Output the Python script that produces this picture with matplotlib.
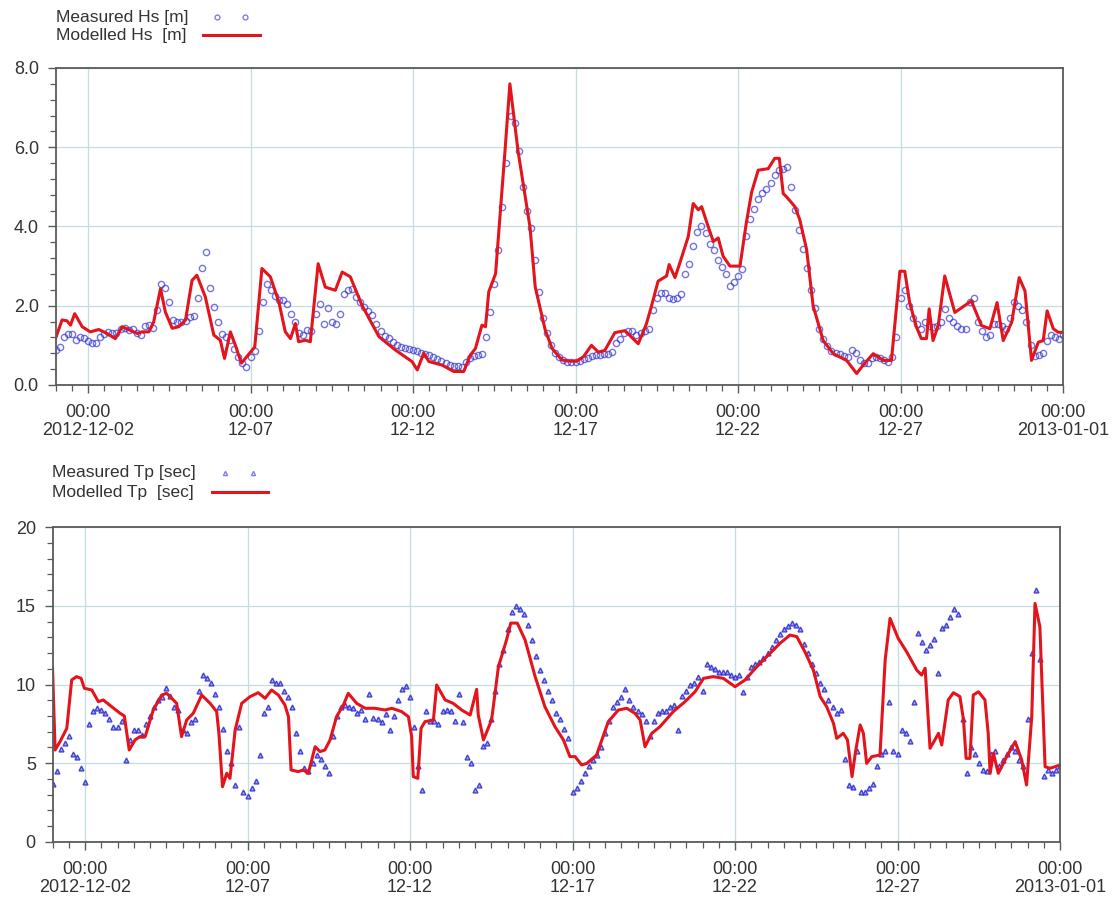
import matplotlib
matplotlib.use('Agg')
import matplotlib.pyplot as plt
import matplotlib.dates as mdates
from matplotlib.lines import Line2D
from matplotlib.ticker import FixedLocator, FixedFormatter, MultipleLocator, FormatStrFormatter
import numpy as np
import pandas as pd

plt.rcParams['font.family'] = ['Liberation Sans', 'DejaVu Sans']

START = pd.Timestamp('2012-12-01')
END = pd.Timestamp('2013-01-01')

# Modelled significant wave height: time (days since 2012-12-01) and value [m]
hs_mod_day = [0.0, 0.2, 0.35, 0.46, 0.59, 0.82, 1.07, 1.33, 1.58, 1.84,
              2.05, 2.30, 2.51, 2.66, 2.87, 3.02, 3.23, 3.38, 3.59, 3.79,
              4.0, 4.2, 4.35, 4.61, 4.87, 5.07, 5.2, 5.38, 5.53, 5.72,
              5.92, 6.13, 6.35, 6.61, 6.87, 7.07, 7.23, 7.38, 7.48, 7.69,
              7.84, 8.08, 8.3, 8.61, 8.82, 9.07, 9.43, 9.95, 10.46, 10.97,
              11.13, 11.33, 11.49, 11.9, 12.25, 12.56, 12.76, 12.92, 13.12, 13.23,
              13.33, 13.54, 13.65, 13.83, 13.98, 14.23, 14.6, 14.76, 15.07, 15.28,
              15.58, 15.83, 16.03, 16.24, 16.49, 16.70, 16.90, 17.21, 17.52, 17.93,
              18.18, 18.34, 18.54, 18.80, 18.88, 19.06, 19.21, 19.47, 19.62, 19.78,
              19.88, 20.08, 20.24, 20.39, 20.54, 20.75, 21.06, 21.26, 21.42, 21.62,
              21.93, 22.13, 22.27, 22.39, 22.49, 22.75, 22.90, 23.11, 23.31, 23.62,
              23.93, 24.34, 24.65, 24.85, 25.16, 25.47, 25.72, 25.98, 26.13, 26.28,
              26.49, 26.64, 26.80, 26.88, 27.0, 27.16, 27.36, 27.67, 28.18, 28.49,
              28.75, 28.97, 29.16, 29.42, 29.65, 29.83, 30.03, 30.24, 30.39, 30.51,
              30.70, 30.85, 31.0]
hs_mod_val = [1.17, 1.64, 1.62, 1.51, 1.80, 1.47, 1.34, 1.40, 1.30, 1.17,
              1.47, 1.38, 1.30, 1.34, 1.34, 1.59, 2.43, 1.84, 1.43, 1.47,
              1.64, 2.64, 2.77, 2.22, 1.26, 1.13, 0.67, 1.34, 1.01, 0.55,
              0.75, 0.96, 2.94, 2.73, 2.10, 1.34, 1.17, 1.55, 1.09, 1.13,
              1.09, 3.06, 2.47, 2.39, 2.85, 2.73, 2.01, 1.22, 0.88, 0.59,
              0.38, 0.80, 0.59, 0.50, 0.34, 0.34, 0.75, 0.92, 1.51, 1.47,
              2.35, 2.81, 3.98, 5.91, 7.60, 5.91, 3.98, 2.47, 1.38, 0.92,
              0.63, 0.60, 0.60, 0.71, 1.00, 0.83, 0.87, 1.32, 1.37, 1.04,
              1.54, 2.00, 2.62, 2.75, 3.04, 2.71, 3.08, 3.75, 4.58, 4.42,
              4.50, 4.00, 3.62, 3.71, 3.25, 3.00, 3.00, 4.12, 4.87, 5.42,
              5.46, 5.72, 5.72, 4.83, 4.75, 4.50, 4.17, 3.42, 2.00, 1.12,
              0.79, 0.62, 0.29, 0.50, 0.79, 0.62, 0.62, 2.87, 2.87, 2.08,
              1.46, 1.17, 1.17, 1.92, 1.12, 1.50, 2.75, 1.83, 2.12, 1.50,
              1.42, 2.08, 1.12, 1.58, 2.71, 2.37, 0.62, 1.08, 1.12, 1.87,
              1.42, 1.33, 1.33]

# Measured Hs [m], 3-hourly from 2012-12-01 00:00 (one row per day)
hs_meas = [0.88, 0.95, 1.22, 1.28, 1.28, 1.13, 1.20, 1.18,
           1.10, 1.05, 1.07, 1.20, 1.28, 1.34, 1.30, 1.30,
           1.40, 1.43, 1.38, 1.42, 1.30, 1.25, 1.50, 1.52,
           1.45, 1.89, 2.55, 2.45, 2.10, 1.65, 1.58, 1.60,
           1.62, 1.72, 1.75, 2.20, 2.95, 3.35, 2.45, 1.97,
           1.60, 1.28, 1.20, 1.13, 0.92, 0.70, 0.55, 0.45,
           0.70, 0.85, 1.35, 2.10, 2.55, 2.40, 2.25, 2.14,
           2.14, 2.05, 1.80, 1.60, 1.30, 1.25, 1.38, 1.35,
           1.80, 2.05, 1.55, 1.95, 1.60, 1.55, 1.80, 2.30,
           2.40, 2.42, 2.22, 2.10, 1.97, 1.87, 1.76, 1.55,
           1.35, 1.24, 1.18, 1.09, 1.02, 0.97, 0.93, 0.90,
           0.88, 0.85, 0.81, 0.78, 0.75, 0.70, 0.65, 0.60,
           0.55, 0.50, 0.48, 0.47, 0.46, 0.58, 0.67, 0.72,
           0.75, 0.78, 1.20, 1.85, 2.55, 3.40, 4.50, 5.60,
           6.80, 6.60, 5.90, 5.00, 4.40, 3.95, 3.15, 2.35,
           1.70, 1.30, 1.00, 0.80, 0.70, 0.62, 0.58, 0.58,
           0.58, 0.60, 0.65, 0.67, 0.72, 0.75, 0.75, 0.77,
           0.78, 0.83, 1.05, 1.15, 1.30, 1.37, 1.35, 1.25,
           1.30, 1.35, 1.42, 1.90, 2.20, 2.33, 2.33, 2.20,
           2.17, 2.20, 2.30, 2.80, 3.05, 3.50, 3.85, 4.00,
           3.83, 3.55, 3.40, 3.15, 2.98, 2.80, 2.50, 2.60,
           2.75, 2.92, 3.75, 4.20, 4.45, 4.70, 4.85, 4.95,
           5.10, 5.30, 5.42, 5.45, 5.50, 5.00, 4.42, 3.90,
           3.42, 2.95, 2.40, 1.95, 1.40, 1.15, 0.98, 0.85,
           0.80, 0.77, 0.74, 0.71, 0.88, 0.80, 0.62, 0.56,
           0.55, 0.68, 0.71, 0.67, 0.62, 0.58, 0.70, 1.20,
           2.20, 2.40, 2.00, 1.70, 1.55, 1.42, 1.58, 1.50,
           1.46, 1.50, 1.60, 1.92, 1.70, 1.60, 1.48, 1.42,
           1.42, 2.10, 2.20, 1.60, 1.35, 1.20, 1.25, 1.55,
           1.55, 1.50, 1.42, 1.70, 2.10, 2.00, 1.90, 1.58,
           1.00, 0.72, 0.75, 0.80, 1.10, 1.25, 1.20, 1.17,
           1.25]

# Modelled peak period: time (days since 2012-12-01) and value [sec]
tp_mod_day = [0.0, 0.08, 0.23, 0.44, 0.59, 0.74, 0.88, 0.98, 1.21, 1.41,
              1.56, 1.82, 2.08, 2.21, 2.28, 2.36, 2.54, 2.69, 2.85, 3.1,
              3.36, 3.51, 3.67, 3.82, 3.97, 4.13, 4.33, 4.59, 4.85, 5.05,
              5.12, 5.23, 5.36, 5.46, 5.62, 5.82, 6.08, 6.33, 6.54, 6.74,
              6.95, 7.15, 7.26, 7.34, 7.56, 7.72, 7.87, 8.08, 8.23, 8.38,
              8.54, 8.74, 8.95, 9.1, 9.36, 9.62, 9.92, 10.23, 10.44, 10.74,
              10.95, 11.05, 11.1, 11.24, 11.34, 11.46, 11.72, 11.82, 12.08, 12.33,
              12.59, 12.85, 13.05, 13.1, 13.26, 13.51, 13.72, 13.97, 14.1, 14.3,
              14.54, 14.85, 15.15, 15.46, 15.72, 15.92, 16.08, 16.28, 16.44, 16.74,
              17.1, 17.41, 17.67, 17.92, 18.08, 18.23, 18.44, 18.69, 19.1, 19.46,
              19.77, 20.03, 20.33, 20.64, 21.0, 21.31, 21.67, 22.08, 22.38, 22.69,
              22.9, 23.15, 23.41, 23.62, 23.82, 24.03, 24.13, 24.33, 24.46, 24.6,
              24.7, 24.85, 24.95, 25.05, 25.21, 25.46, 25.62, 25.77, 26.02, 26.28,
              26.59, 26.74, 26.85, 27.0, 27.15, 27.26, 27.36, 27.56, 27.72, 27.92,
              28.03, 28.11, 28.23, 28.33, 28.49, 28.69, 28.79, 28.85, 28.95, 29.1,
              29.36, 29.62, 29.82, 29.97, 30.13, 30.23, 30.38, 30.54, 30.69, 30.85,
              31.0]
tp_mod_val = [11.03, 5.84, 6.37, 7.22, 10.29, 10.5, 10.39, 9.76, 9.65, 8.91,
              9.02, 8.59, 8.17, 8.0, 7.0, 5.84, 6.48, 6.69, 6.69, 8.38,
              9.33, 9.44, 9.12, 8.8, 6.69, 7.75, 8.17, 9.33, 8.8, 8.28,
              6.9, 3.51, 4.36, 4.04, 7.11, 8.8, 9.23, 9.48, 9.12, 9.65,
              9.33, 8.7, 7.96, 4.57, 4.47, 4.57, 4.36, 6.05, 5.74, 5.84,
              6.48, 7.96, 8.7, 9.44, 8.8, 8.49, 8.49, 8.38, 8.49, 8.28,
              7.96, 6.69, 4.15, 4.04, 7.22, 7.64, 7.75, 9.97, 9.02, 8.8,
              8.38, 8.06, 9.69, 8.06, 6.48, 7.75, 11.13, 12.83, 13.9, 13.9,
              12.83, 10.5, 8.59, 7.32, 6.48, 5.42, 5.42, 4.89, 4.99, 5.52,
              7.64, 8.38, 8.49, 8.17, 7.75, 6.05, 6.9, 7.32, 8.28, 8.91,
              9.54, 10.39, 10.5, 10.39, 9.86, 10.29, 11.13, 11.98, 12.61, 13.14,
              13.04, 12.08, 10.92, 9.23, 8.59, 7.53, 6.58, 6.9, 6.48, 4.15,
              5.63, 7.43, 6.9, 4.99, 5.42, 5.52, 11.56, 14.2, 12.93, 12.08,
              10.92, 10.6, 11.03, 5.95, 6.48, 6.9, 6.16, 9.02, 9.48, 9.23,
              7.75, 5.31, 5.31, 9.33, 9.54, 9.02, 6.9, 4.36, 5.63, 4.36,
              5.42, 6.37, 5.21, 3.62, 7.96, 15.15, 13.67, 4.78, 4.68, 4.78,
              4.89]

# Measured Tp [sec], 3-hourly from 2012-12-01 00:00 (one row per day)
tp_meas = [3.7, 4.5, 5.9, 6.3, 6.7, 5.6, 5.4, 4.7,
           3.8, 7.5, 8.3, 8.5, 8.4, 8.2, 7.8, 7.3,
           7.3, 7.7, 5.2, 6.5, 7.1, 7.1, 6.8, 7.5,
           8.0, 8.6, 9.0, 9.2, 9.8, 9.3, 8.6, 8.4,
           7.1, 6.9, 7.6, 7.8, 9.6, 10.6, 10.4, 10.1,
           9.4, 8.6, 7.2, 5.8, 5.0, 3.6, 7.3, 3.2,
           2.9, 3.4, 3.9, 5.5, 8.2, 8.6, 10.3, 10.1,
           10.1, 9.6, 9.2, 8.6, 6.9, 5.8, 4.7, 4.5,
           5.0, 5.5, 5.3, 4.8, 4.4, 6.7, 8.0, 8.6,
           8.7, 8.6, 8.5, 8.2, 8.4, 7.8, 9.4, 7.9,
           7.8, 7.6, 8.1, 7.1, 8.0, 9.0, 9.7, 9.9,
           9.2, 7.3, 4.8, 3.3, 8.3, 7.7, 7.7, 7.5,
           8.3, 8.4, 8.3, 7.7, 9.4, 7.6, 5.4, 5.0,
           3.3, 3.6, 6.1, 6.3, 7.8, 9.6, 11.3, 12.2,
           13.5, 14.6, 15.0, 14.8, 14.5, 13.8, 12.8, 11.8,
           10.9, 10.3, 9.6, 9.0, 8.2, 7.8, 7.2, 6.6,
           3.2, 3.4, 3.9, 4.4, 4.8, 5.2, 5.5, 6.0,
           6.9, 7.7, 8.6, 8.9, 9.2, 9.7, 9.0, 8.6,
           8.3, 8.1, 7.7, 6.7, 7.7, 8.2, 8.3, 8.3,
           8.6, 8.7, 7.1, 9.3, 9.6, 10.0, 10.1, 10.5,
           9.6, 11.3, 11.1, 11.0, 10.8, 10.8, 10.8, 10.6,
           10.5, 10.6, 9.5, 10.5, 11.1, 11.3, 11.4, 11.7,
           12.0, 12.4, 12.8, 13.2, 13.5, 13.7, 13.9, 13.8,
           13.5, 12.6, 12.0, 11.3, 10.7, 10.1, 9.7, 9.0,
           8.6, 8.2, 8.4, 5.3, 3.6, 3.5, 5.8, 3.2,
           3.2, 3.4, 3.7, 4.8, 5.6, 5.8, 8.9, 5.8,
           5.6, 7.1, 6.9, 6.4, 8.9, 13.3, 12.7, 12.2,
           12.5, 12.9, 10.7, 13.6, 13.8, 14.3, 14.8, 14.5,
           7.8, 4.4, 6.0, 5.6, 5.0, 4.6, 4.5, 5.6,
           5.8, 4.8, 5.2, 5.6, 6.0, 5.8, 5.2, 4.8,
           7.8, 12.0, 16.0, 11.6, 4.2, 4.6, 4.4, 4.6,
           4.8]

tick_dates = ['2012-12-02', '2012-12-07', '2012-12-12', '2012-12-17',
              '2012-12-22', '2012-12-27', '2013-01-01']
tick_labels = ['00:00\n2012-12-02', '00:00\n12-07', '00:00\n12-12', '00:00\n12-17',
               '00:00\n12-22', '00:00\n12-27', '00:00\n2013-01-01']

RED = '#e3141b'
BLUE = '#2a2ad0'
GRID = '#c3dde1'
SPINE = '#5a5a5a'
TEXT = '#333333'


def day_times(days):
    return START + pd.to_timedelta(np.asarray(days, dtype=float), unit='D')


def style_axis(ax, ymax, ymajor, yminor, yfmt):
    ax.set_xlim(START, END)
    ax.set_ylim(0, ymax)
    ticks = mdates.date2num(pd.to_datetime(tick_dates))
    ax.xaxis.set_major_locator(FixedLocator(ticks))
    ax.xaxis.set_major_formatter(FixedFormatter(tick_labels))
    ax.xaxis.set_minor_locator(mdates.HourLocator(byhour=[0, 12]))
    ax.yaxis.set_major_locator(MultipleLocator(ymajor))
    ax.yaxis.set_minor_locator(MultipleLocator(yminor))
    ax.yaxis.set_major_formatter(FormatStrFormatter(yfmt))
    ax.grid(True, which='major', color=GRID, linewidth=0.9)
    ax.set_axisbelow(True)
    ax.tick_params(which='major', length=6, width=1.0, color=SPINE,
                   labelsize=13, labelcolor=TEXT)
    ax.tick_params(which='minor', length=4, width=0.9, color=SPINE)
    ax.tick_params(axis='x', which='major', pad=8)
    ax.tick_params(axis='y', which='major', pad=6)
    for lab in ax.get_xticklabels():
        lab.set_linespacing(1.05)
    for spine in ax.spines.values():
        spine.set_color(SPINE)
        spine.set_linewidth(1.3)


def legend_rows(fig, x_text, y1, y2, label1, label2, mx, lx, marker, msize):
    fig.text(x_text, y1, label1, fontsize=12.5, color=TEXT, va='center', ha='left')
    fig.text(x_text, y2, label2, fontsize=12.5, color=TEXT, va='center', ha='left')
    fig.add_artist(Line2D(mx, [y1, y1], transform=fig.transFigure, linestyle='none',
                          marker=marker, markersize=msize, markerfacecolor='none',
                          markeredgecolor=BLUE, alpha=0.6))
    fig.add_artist(Line2D(lx, [y2, y2], transform=fig.transFigure, color=RED, linewidth=2.2))


fig = plt.figure(figsize=(11.15, 8.98), dpi=100)

# Significant wave height
ax1 = fig.add_axes([0.0498, 0.5713, 0.9036, 0.3530])
t_meas = pd.date_range(START, periods=len(hs_meas), freq='3h')
ax1.plot(t_meas, hs_meas, linestyle='none', marker='o', markersize=4.5,
         markerfacecolor='none', markeredgecolor=BLUE, markeredgewidth=1.0, alpha=0.65)
ax1.plot(day_times(hs_mod_day), hs_mod_val, color=RED, linewidth=2.2)
style_axis(ax1, 8.0, 2.0, 0.4, '%.1f')

# Peak wave period
ax2 = fig.add_axes([0.0471, 0.0624, 0.9036, 0.3507])
t_meas = pd.date_range(START, periods=len(tp_meas), freq='3h')
ax2.plot(t_meas, tp_meas, linestyle='none', marker='^', markersize=3.5,
         markerfacecolor='#9a9af0', markeredgecolor=BLUE, markeredgewidth=1.0, alpha=0.85)
ax2.plot(day_times(tp_mod_day), tp_mod_val, color=RED, linewidth=2.2)
style_axis(ax2, 20, 5, 1, '%d')

legend_rows(fig, 0.0502, 0.981, 0.961, 'Measured Hs [m]', 'Modelled Hs  [m]',
            [0.1946, 0.2197], [0.182, 0.233], 'o', 3.5)
legend_rows(fig, 0.0466, 0.4733, 0.4521, 'Measured Tp [sec]', 'Modelled Tp  [sec]',
            [0.2018, 0.2269], [0.190, 0.240], '^', 3.0)

fig.savefig('out.png', dpi=100)
